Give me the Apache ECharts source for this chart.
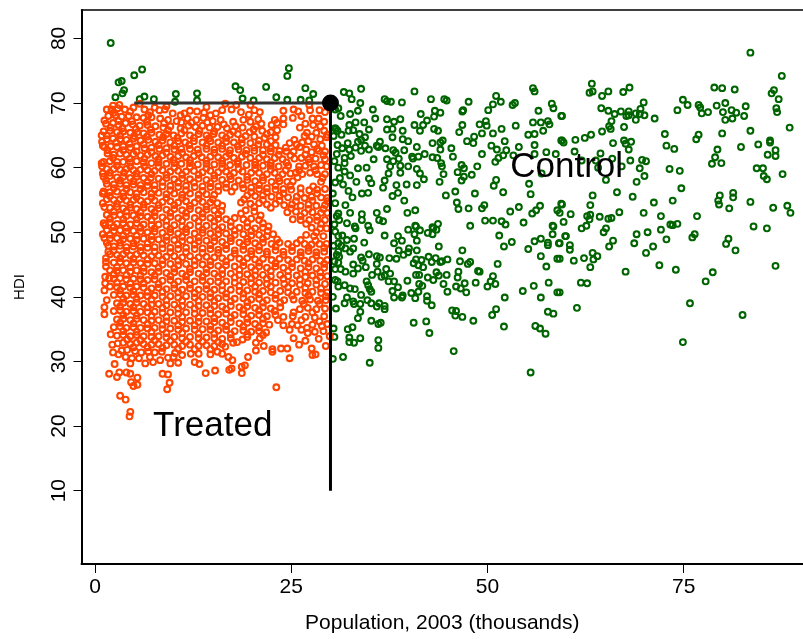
<!DOCTYPE html>
<html><head><meta charset="utf-8">
<style>html,body{margin:0;padding:0;background:#fff}#c{width:803px;height:639px}</style>
<script src="https://cdn.jsdelivr.net/npm/echarts@6/dist/echarts.min.js"></script>
</head><body><div id="c"></div>
<script>
const xTicks=[0,25,50,75];
const yTicks=[10,20,30,40,50,60,70,80];
const xLabel="Population, 2003 (thousands)";
const yLabel="HDI";
const cutoffX=[5,30];
const cutoffY=[10,70];
const controlNear=[31.7,71.7,32.4,71.5,32.7,70.6,33.9,72.2,33.8,70,33.5,68.8,35.4,69,35.7,67.6,32.5,68.3,33.2,67,34.3,67,32.4,66.6,32.3,65.7,32.9,65.8,33.7,65.2,34.9,65.9,34.4,64.7,33.9,64.3,33.5,64,32.2,63.8,31.5,63,32.4,62.8,33.2,63.1,33.9,62.6,34.4,63.4,34.9,62.8,35.9,63.4,36.3,64,36.1,63.2,37,63,38,62.7,38.3,62.3,39.4,62.7,39.9,64.1,39.2,64.4,39.2,65.7,38.9,67.5,38.1,67.1,37.2,67.5,37.2,65.9,37.9,66,37.9,64.7,36.9,70.6,37.2,70.3,37.7,70.2,39.1,70.1,40.7,71.8,42.8,70.6,44.5,70.6,44.8,70.4,47.6,70.2,46.9,68.9,46.8,68.7,50.1,68.9,50.7,69.8,51.1,71.1,51.7,70.2,53.2,69.7,53.5,70,55.8,72.3,56,71.8,58.2,69.9,58.4,69.2,56.5,68.8,59.4,68,55.8,67,56.8,67,57.7,67.2,57.9,66.7,57.1,65.7,56,65.2,55.2,65.1,53.6,66.5,51.8,66,50.7,65.3,49.8,67.2,49,66.7,49.9,66.5,49.3,65.3,48.3,64.8,47.4,64.1,48.2,63.8,46.8,66.6,46.4,65.5,40.7,66.6,41.8,66.6,42.3,67.3,41.5,68.3,43.3,68.8,44,68.5,43.2,67.9,41.4,65.7,43.2,66,43.7,65.7,43,63.8,44,63.9,44.3,64.2,44,62.8,45.4,63,45.6,61.7,41,63.2,40.4,61.7,41.2,61.7,42,62.1,43,61.6,43.6,61.5,44.1,60.7,44.2,60.2,52.2,64.1,50.5,63.4,51.2,62.8,52.4,62.7,54,63.2,56,63.5,56,62.1,57.5,62.4,58.7,62.1,59.4,64.2,49.3,62.1,52,61.9,51.4,61.5,51,60.9,53.3,61.9,46.7,60.4,47,59.9,46.2,59.3,47,58.6,46.7,58,48,58.9,48.7,60.2,51.1,58.1,50.8,57.2,52,56.2,55.3,57.5,55.5,55.9,56.9,59.1,48.4,56,45.9,56.3,44.7,55.7,44.4,59,43.9,57.8,41.9,58.2,41.4,59.1,41,59.8,39.9,60.2,38.9,59.2,38.9,60.3,37.6,60.2,37.4,59.1,36.9,58,36.7,56.9,38.4,57.3,38.6,56.1,37.9,55.6,39.4,54.9,39.7,57.4,41,57.3,34.9,58.3,35.2,57.6,34.8,56.1,34,56,32.8,55.4,32.3,56.4,31.6,57.4,30.6,57.7,31.2,58.4,32.5,58.8,33.3,57.8,33.5,59.9,34.6,60,31.8,59.4,31.8,60.7,31.8,61.5,32.6,61.8,30.8,62.1,35.5,61.3,37.2,61.3,38,61,38.7,61.4,40.5,61.4,31.9,54.2,31,52.9,32.5,53,34,52.8,35.9,53,37.2,53.6,39.8,53,40.8,53.4,46.1,54.6,46.3,53.6,47.6,53.7,49.3,53.7,49.6,54.2,54,53.9,52.9,53.2,55.7,52.9,56.2,53.4,56.7,54.1,58.9,53.4,59.4,54.4,49.7,51.8,50.7,51.8,51.8,51.7,52.3,51.2,54.6,51.5,58.3,51,47.8,51,43.7,51.3,40.8,51,43,50.8,34.8,51,36.7,51.7,36.2,51.9,33.1,50.9,32.1,51.4,31.1,51.9,34,51.9,31,69.2,31.3,68,30.6,66.1,30.9,65.7,30.4,64.9,31.4,65.1,30.6,69,30.7,66,30.9,63.5,30.5,61,31,60,30.3,56,30.6,54.5,30.8,52.5,30.5,51.2];
const controlLow=[33.2,50.6,35,50.3,39.9,50.4,40.9,50.9,40.7,49.7,41.4,50.3,42.4,49.9,43.1,50.6,43.5,50.4,43,49.7,41,48.7,36.9,49.5,38.6,49.4,39.1,48.7,38.1,48.3,34.3,48.4,33,49,32.1,48.8,31,49.4,30.6,50.1,31,48.3,31.4,47.9,32.9,47.5,32.5,47,31,47,31.1,46.2,31,45.3,31.3,44.3,31.9,43.9,32.9,43.6,33.5,44.4,32.9,45,34.5,44.6,34.1,45.6,33.9,46.1,34.9,46.6,35.9,46.3,36.3,46.1,35.9,45.1,36,43.9,35.3,43.4,37.1,44.3,37.6,43.6,36.5,43.1,36.9,43.3,37.4,42.4,38.1,42.4,34.6,42.4,34.8,41.8,35,41.2,35.2,40.8,38.6,41.5,37.9,40.9,38.1,39.9,39.1,39.9,39.2,40.2,40.3,40.6,41.2,40.8,41.3,42,41.7,41.7,39.8,42.5,40.9,43.4,41.3,43.4,42.4,43,43.1,42.6,43.5,43.8,43.8,43.3,44.8,43.4,44.4,42,44.9,40.8,46.3,43.9,46.2,43,46,41.6,46.6,41.3,47.1,42.1,47.3,40.7,48.5,42.2,48.8,44,49,43.9,50,41.6,50.7,43.2,50.4,42.4,51,42,52.2,39.9,54.5,40.9,55.9,41.7,56.8,39.9,57.8,42.2,58.9,40.7,51.3,45.1,47.5,45.1,47.8,45.4,46.5,45.5,46.8,47.2,44.9,45.8,44.2,45.5,44,45.4,43.4,46,42.9,45.4,42.5,46.2,41.8,44.6,41.6,45.7,41.2,44.9,40.6,45.2,40.9,45.8,41,47.2,39.9,46.9,40,47.5,39.3,46.5,38.4,45.9,38.7,47.2,37.5,46,43.8,47.8,52.1,47.8,51.5,49.5,53.1,48.5,55.2,47.4,56,48.6,56.8,49,57.7,48.4,57.7,48,59.1,48.3,58.4,50.9,58.3,49.7,59.9,49.4,56.8,46.3,57.5,44.7,58.9,45.9,32.1,39.9,31.8,39,32.9,39.3,33,38.9,33.8,38.9,33.9,40.3,34.7,39.5,35.2,39,35.9,38.5,36.2,39,36.9,38.6,36.9,38.1,30.7,38.2,33.8,37.7,33.5,36.7,35.2,36.3,36.1,35.8,36.4,36,40.6,36,42.2,36.2,42.6,34.4,42.3,40.1,40.8,39.8,42.3,39.4,42.9,38.7,45.5,37.9,46,37.8,45.9,37.1,46.8,36.9,48.2,36.3,51.1,38.1,50.6,37.2,52.1,35.4,56.1,35.5,56.7,35.1,57.4,34.3,57.7,37.7,58.4,37.4,32.8,35.3,32.2,35,30.4,35.1,30.5,33.8,32.4,33.7,32.4,33,33,32.9,33.8,33.6,36.1,33.3,36.1,32.1,30.3,30.4,31.6,30.7,35,29.8,45.7,31.6,55.5,28.3,31,41.6,31.8,41.8,32.5,41.3,33.1,41.2,30.6,42.6,30.9,42.4,30.4,47.9,30.8,46.5,30.6,44.3,30.5,45.5,30.3,40,31.5,49.5,31.9,47.5];
const controlFar=[83.5,77.8,87.5,74.2,63.3,73,65.4,71.8,63,71.6,63.4,71.8,64.6,71.1,67.3,71.7,68.1,72.4,78.9,72.4,79.9,72.3,81.5,72.1,86.5,72,86.2,71.5,87.1,70.6,74.9,70.5,75.5,69.7,74.2,68.9,69.9,70.1,69.5,69.1,64.5,69.2,65.4,68.8,66.2,68.3,67,68.7,67.7,68,68,68.7,68,68.1,68.9,67.4,68.9,68.4,69.4,68.3,70,68.1,71.3,67.6,65.8,67.2,65.5,66.4,65.7,66,64.6,65.6,67.4,66.3,63.2,65.1,62.4,64.6,61.2,64.3,59.5,68,59.5,64.2,59.7,63.9,61.1,62.5,64.4,62.2,66,63.8,67.4,64.2,67.6,63.7,68.3,64,68,62.8,65.9,61.4,63.8,61.1,62,61.1,64.1,60,67.1,60.2,68.2,61.1,69.7,61.2,70.2,61,69.4,59.9,70,58.7,65.1,58.1,69,57.8,66.5,56.2,63.4,55.7,63.1,54.2,59.5,54.3,68.5,55.5,71.2,54.6,73.6,54.9,74.7,56.8,74.5,59.5,73.2,59.8,73.8,62.9,72.8,63.4,72.6,65.2,76.6,64.4,76.9,65.1,79.9,65.3,83.5,65.7,88.5,66.2,76.9,69.7,77.1,69.3,77.3,68.4,78.1,68.6,79.2,69.6,80.3,70,80,68.6,81.1,68.9,81.7,68.5,82.9,69.5,82.7,68,81.2,67.6,80.3,67.4,86.8,69.2,86.9,68.6,86,64.2,86,63.9,84.5,63.6,82.3,63.2,79.3,62.8,79,61.6,78.6,60.6,79.8,60.7,86.7,62.7,85.7,62,86.7,61.8,84.3,59.9,85.1,59.9,85.2,58.7,85.6,58.2,87.6,59,79.6,55.7,79.4,54.9,79.5,54.3,81.3,56.1,81.3,55.4,83.5,54.7,80.8,53.7,86.4,53.8,88.2,54.1,88.6,53,76.7,52.5,72.1,52.5,69.9,53,66.8,53.1,65.8,52.2,65.4,52.1,64.3,52.4,63.1,52.7,62.7,52.5,63,52,60.6,52.8,59.7,51.6,59.2,53,62.6,51,62,50.6,65.1,50.6,64.8,50,60,49.4,59.2,48.3,60.5,48,60.5,47.3,66,48.7,65.5,47.8,69,49.7,68.7,48.3,70.4,50,72.1,50.4,73.3,51.2,73.6,51.1,74.2,51.3,72.8,48.9,71.1,47.8,70.2,46.8,63.4,46.8,64,46.3,63.5,45.8,62.3,46,61,45.6,59.2,45.9,63.1,44.6,67.6,43.9,71.9,44.9,74,44.2,78.7,43.8,77.8,42.4,76.4,49.7,76.1,49.2,80.7,49,80.4,48.2,81.6,47.2,83.9,50.9,85.6,50.6,86.7,44.8,61.9,42.2,62.7,42.1,59.2,40.7,61.4,38.3,75.8,39,82.5,37.2,74.9,33];
const controlTop=[2,79.3,6,75.2,5,74.3,3,73.2,3.4,73.4,3.7,72,3.5,71.5,2.6,70.9,6.3,71,5.7,70.6,7.5,70.6,10.3,71.4,10.2,70.2,13,71.5,13,70.4,17.9,72.6,18.5,72,18.8,70.7,20.2,70.4,21.8,72.5,23.1,70.9,24.5,70.5,24.7,75.4,24.5,74.2,26.8,72.3,27.8,71.4,26.2,70.5,27.3,70.4];
const treatedEdge=[1.8,28.1,2.8,27.6,3.1,28.3,4,28.3,4.5,28.1,5.4,27.5,4.6,26.8,5.4,26.4,4.9,26.2,3.2,24.7,3.9,24.1,4.5,22.2,4.4,21.5,8.6,28.1,9.3,28,9.5,26.7,9.2,25.7,14.1,28.2,15.3,28.6,17.1,28.7,17.4,28.9,18.7,28.2,18.7,29.2,19.1,29.4,23.1,26,19.5,30.7,17.5,30.2,17,30.7,24.8,30.5,27.7,31,28.1,31.1,27.6,32,23.7,32,24.5,32,22.6,31.9,22.6,31.5,29.4,32.4,28.5,33.5,29.9,33.9,26,32.6,26.8,33.2,25.3,33.6,24.8,34.9,24,35.6,27.1,34.4,26.3,34.9,2.5,29.6,3,31.1,2.2,32.6,2.3,31.4,2,34.2,4.5,29.7,4.7,30.5,6.4,29.7,7.4,29.9,8.3,30.2,9.6,29.7,10.6,29.8,9.3,30.6,12.7,29.9,13.3,29.6,12.2,31.2,14.7,31.1,16.6,32.3,18.1,33,20.5,32.9,20.5,31.7,21.5,32.4,1.2,37.3,1.2,38.4,1.5,39.5,1.2,41,1.3,42.1,1.4,44.7,1.3,43.1,1.7,47,1,49.7,1.3,51.1,0.85,65,1,63.4,0.85,60.7,1,59.1,1,56,1.3,51.1,1.5,69,3.1,69.7,2.3,69.6,5.7,69.9,7.6,69.3,9.1,69.5,12.1,68.8,14.2,69.4,16.6,69.9,18,69.7,19.8,69.7,21,68.6,24,68.8,25.3,69,26.3,68,27.3,69.7,27.4,68.9,28.5,67.6];
const treatedUpper=[2.1,69,2.9,69.2,3.8,69,4.5,68.7,6.3,69,7,68.6,8.2,68.9,9.9,68.4,10.9,68.1,13,68.7,13.9,68.5,15.4,68.4,16.2,68.9,18.6,68.6,19.6,68.2,20.8,67.5,24,67.6,25.2,67.7,27.7,67.6,29.3,68.6,1.7,68,2.6,68.1,3.4,67.9,4.3,68,5.3,67.8,6.2,67.7,7.2,67.8,8.3,67.6,9.3,67.4,10.4,67.2,11.8,67.6,12.9,67.4,13.8,67.7,15,67.2,16,67.4,18.9,67.4,19.8,67.1,21.2,66.8,22.5,66.6,23.2,66.9,26.8,66.8,27.8,66.6,29.2,67.1,1.4,66.8,2.3,66.9,3,66.6,3.9,66.9,4.8,66.7,5.7,66.5,6.7,66.6,7.7,66.4,8.7,66.2,9.6,66.4,10.9,66.1,11.9,66.5,12.8,66.3,13.7,66.5,14.6,66.2,15.6,66.3,16.8,66.1,17.9,66.4,18.8,66.2,20.2,65.9,21.3,65.7,22.4,65.5,23.2,65.8,28.2,65.4,29.2,65.7,1.1,65.6,1.9,65.7,2.8,65.5,3.6,65.6,4.5,65.4,5.4,65.5,6.2,65.3,7.2,65.4,8.2,65.1,9.1,65.2,10,65,11,65.3,12.1,65,13.2,65.2,14.2,65,15.1,65.2,16.2,65,17.2,65.1,18.2,65.2,19.2,64.9,20.3,64.8,21.6,64.6,23,64.7,26.7,64.9,27.6,64.8,28.7,64.4,29.5,64.7,1.5,64.4,2.3,64.5,3.2,64.4,4,64.3,4.9,64.5,5.8,64.2,6.8,64.3,7.7,64,8.6,64.2,9.6,63.9,10.6,64.1,11.5,63.9,12.6,64.1,13.7,63.9,14.7,64.1,15.7,63.9,16.7,64,17.7,63.9,18.7,63.8,19.8,63.8,20.8,63.6,21.9,63.6,23,63.5,24.8,63.8,25.7,63.6,26.4,63.9,27.9,63.6,28.9,63.4,1.2,63.2,2,63.3,2.8,63.2,3.6,63.3,4.5,63.1,5.3,63.3,6.3,63,7.2,63.1,8.2,62.9,9.1,63,10.1,62.8,11,62.9,12.1,62.9,13.1,62.8,14.2,62.9,15.2,62.8,16.2,62.9,17.2,62.7,18.3,62.8,19.3,62.7,20.3,62.6,21.4,62.7,22.4,62.5,23.5,62.6,24.4,62.5,25.3,62.5,26.9,62.8,27.6,62.4,28.5,62.6,29.3,62.5,1.6,62.2,2.4,62,3.2,62.2,4,62,4.9,62.1,5.8,61.9,6.7,62,7.7,61.8,8.6,61.9,9.6,61.7,10.6,61.8,11.6,61.6,12.6,61.8,13.6,61.6,14.7,61.7,15.7,61.6,16.7,61.7,17.7,61.5,18.7,61.7,19.8,61.5,20.9,61.5,21.9,61.3,22.9,61.5,23.9,61.3,25.4,61.4,26.3,61.5,27.2,61.3,28.1,61.4,29.3,61.3,1.1,60.9,1.9,61,2.8,60.9,3.6,60.9,4.5,60.8,5.3,61,6.2,60.8,7.2,60.7,8.1,60.8,9.1,60.6,10.1,60.7,11,60.6,12.1,60.7,13.1,60.5,14.2,60.6,15.2,60.5,16.2,60.6,17.2,60.4,18.2,60.6,19.3,60.4,20.4,60.4,21.4,60.3,22.4,60.3,23.4,60.2,24.6,60.3,26,60.2,26.8,60.3,27.9,60.2,28.8,60.4,29.5,60.2,1.5,59.8,2.4,59.8,3.2,59.7,4,59.8,4.9,59.6,5.8,59.7,6.7,59.6,7.6,59.5,8.6,59.6,9.6,59.4,10.6,59.5,11.6,59.4,12.6,59.5,13.7,59.3,14.7,59.5,15.7,59.3,16.7,59.4,17.7,59.2,18.8,59.4,19.9,59.2,20.9,59.2,21.9,59,22.9,59.2,23.9,59,24.9,59.1,25.6,59.2,26.4,59,27.4,59.2,28.3,59,29.3,59,1.1,58.6,1.9,58.7,2.8,58.5,3.6,58.6,4.5,58.4,5.3,58.6,6.2,58.4,7.1,58.4,8.1,58.3,9.1,58.4,10.1,58.2,11.1,58.3,12.1,58.2,13.2,58.3,14.2,58.1,15.2,58.3,16.2,58.1,17.3,58.2,18.3,58,19.4,58.1,20.4,57.9,21.4,58,22.5,57.8,23.5,57.9,24.5,57.8,25.2,57.9,28.8,57.8,1.5,57.5,2.4,57.4,3.2,57.5,4,57.3,4.9,57.4,5.8,57.3,6.7,57.2,7.6,57.3,8.6,57.1,9.6,57.2,10.6,57,11.6,57.2,12.7,57,13.7,57.1,14.7,57,15.7,57.1,16.7,56.9,17.8,57,18.9,56.8,19.9,56.9,20.9,56.7,21.9,56.8,23,56.6,24,56.7,25,56.6,26.2,56.8,27.3,56.5,28.3,56.6,29.3,56.7,1.1,56.3,1.9,56.2,2.8,56.3,3.6,56.1,4.5,56.2,5.3,56,6.2,56.2,7.2,56,8.1,56.1,9.1,55.9,10.1,56,11.1,55.8,12.1,56,13.2,55.8,14.2,55.9,15.2,55.8,19.4,55.7,20.4,55.6,21.4,55.7,22.5,55.5,23.5,55.6,24.6,55.4,25.7,55.5,26.7,55.3,27.6,55.5,28.8,55.4,29.6,55.3,1.5,55.1,2.4,55,3.2,55.1,4,54.9,4.9,55,5.8,54.9,6.7,54.8,7.6,54.9,8.6,54.7,9.6,54.8,10.6,54.6,11.6,54.8,12.7,54.6,13.7,54.7,14.7,54.6,15.6,54.5,18.6,54.6,19.8,54.4,20.9,54.5,21.9,54.3,23,54.4,24.1,54.2,25.1,54.3,26.2,54.1,27.2,54.3,28.2,54.1,29.3,54.2];
const treatedMiddle=[1.2,53.9,1.9,53.8,2.8,53.9,3.6,53.7,4.5,53.8,5.3,53.6,6.2,53.8,7.2,53.6,8.1,53.7,9.1,53.5,10.1,53.6,11.1,53.4,12.1,53.6,13.2,53.4,14.2,53.5,15.2,53.4,16.1,53.3,19.2,53.4,20.3,53.2,24.5,53.1,25.6,53.2,26.7,53,27.7,53.1,28.8,53,29.6,53,1.5,52.7,2.4,52.6,3.2,52.7,4,52.5,4.9,52.6,5.8,52.5,6.7,52.4,7.6,52.5,8.6,52.3,9.6,52.4,10.6,52.2,11.6,52.4,12.7,52.2,13.7,52.3,14.7,52.2,15.7,52.1,16.7,52,17.8,52.2,18.9,52,19.9,52.1,20.9,51.9,25.2,52,26.2,51.9,27.3,51.9,28.3,51.8,29.3,51.9,1.1,51.4,1.9,51.5,2.8,51.3,3.6,51.4,4.5,51.2,5.3,51.4,6.2,51.2,7.2,51.1,8.1,51.2,9.1,51,10.1,51.1,11.1,50.9,12.1,51.1,13.2,50.9,14.2,51,15.2,50.9,16.2,50.8,17.3,50.9,18.4,50.7,19.4,50.8,20.4,50.6,21.4,50.7,22.1,50.9,27.6,50.7,28.7,50.6,29.5,50.6,1.5,50.3,2.4,50.2,3.2,50.3,4,50.1,4.9,50.2,5.8,50.1,6.7,50,7.6,50.1,8.6,49.9,9.6,50,10.6,49.8,11.6,50,12.7,49.8,13.7,49.9,14.7,49.8,15.7,49.7,16.7,49.8,17.8,49.6,18.9,49.7,19.9,49.5,20.9,49.6,21.9,49.4,22.7,49.7,26.9,49.6,27.9,49.4,29.1,49.4,1.2,49.1,1.9,49,2.8,49.1,3.6,48.9,4.5,49,5.3,48.8,6.2,49,7.2,48.8,8.1,48.9,9.1,48.7,10.1,48.8,11.1,48.6,12.1,48.8,13.2,48.6,14.2,48.7,15.2,48.6,16.2,48.5,17.3,48.6,18.4,48.4,19.4,48.5,20.4,48.3,21.4,48.4,22.5,48.2,23.5,48.4,24.6,48.2,25.7,48.3,26.7,48.2,27.6,48.1,28.6,48.2,29.5,48.2,1.7,47.9,2.4,47.8,3.2,47.9,4,47.7,4.9,47.8,5.8,47.7,6.7,47.6,7.6,47.7,8.6,47.5,9.6,47.6,10.6,47.4,11.6,47.6,12.7,47.4,13.7,47.5,14.7,47.4,15.7,47.3,16.7,47.4,17.8,47.2,18.9,47.3,19.9,47.1,20.9,47.2,21.9,47,23,47.2,24,47,25.1,47.1,26.2,46.9,27.2,47.1,28.2,46.9,29.2,47,1.9,46.6,2.8,46.5,3.6,46.6,4.5,46.4,5.3,46.6,6.2,46.4,7.2,46.3,8.1,46.4,9.1,46.2,10.1,46.3,11.1,46.1,12.1,46.3,13.2,46.1,14.2,46.2,15.2,46.1,16.2,46,17.3,46.1,18.4,45.9,19.4,46,20.4,45.8,21.4,45.9,22.5,45.7,23.5,45.9,24.6,45.7,25.7,45.8,26.7,45.6,27.7,45.8,28.7,45.6,29.6,45.7,1.4,45.4,2.4,45.3,3.2,45.4,4,45.2,4.9,45.3,5.8,45.2,6.7,45.1,7.6,45.2,8.6,45,9.6,45.1,10.6,44.9,11.6,45.1,12.7,44.9,13.7,45,14.7,44.9,15.7,44.8,16.7,44.9,17.8,44.7,18.9,44.8,19.9,44.6,20.9,44.7,21.9,44.5,23,44.7,24,44.5,25.1,44.6,26.2,44.4,27.2,44.6,28.2,44.4,29.2,44.5,1.9,44.1,2.8,44,3.6,44.1,4.5,43.9,5.3,44.1,6.2,43.9,7.2,43.8,8.1,43.9,9.1,43.7,10.1,43.8,11.1,43.6,12.1,43.8,13.2,43.6,14.2,43.7,15.2,43.6,16.2,43.5,17.3,43.6,18.4,43.4,19.4,43.5,20.4,43.3,21.4,43.4,22.4,43.2,23.6,43.4,24.6,43.2,25.7,43.3,26.8,43.1,27.7,43.3,28.7,43.1,29.6,43.2,1.8,42.9,2.4,42.8,3.2,42.9,4,42.7,4.9,42.8,5.8,42.7,6.7,42.6,7.6,42.7,8.6,42.5,9.6,42.6,10.6,42.4,11.6,42.6,12.7,42.4,13.7,42.5,14.7,42.4,15.7,42.3,16.7,42.4,17.8,42.2,18.9,42.3,19.9,42.1,20.9,42.2,21.9,42,23,42.2,24.1,42,25.1,42.1,26.1,41.9,27.1,42.1,28.2,41.9,29.3,42,1.9,41.6,2.8,41.5,3.6,41.6,4.5,41.4,5.3,41.6,6.2,41.4,7.2,41.3,8.1,41.4,9.1,41.2,10.1,41.3,11.1,41.1,12.1,41.3,13.2,41.1,14.2,41.2,15.2,41.1,16.2,41,17.3,41.1,18.4,40.9,19.4,41,20.4,40.8,21.4,40.9,22.4,40.7,23.6,40.9,24.6,40.7,25.7,40.8,26.8,40.6,27.7,40.8,28.8,40.6,29.6,40.7];
const treatedLower=[2.4,40.3,3.2,40.4,4,40.2,4.9,40.3,5.8,40.2,6.7,40.1,7.6,40.2,8.6,40,9.6,40.1,10.6,39.9,11.6,40.1,12.7,39.9,13.7,40,14.7,39.9,15.7,39.8,16.7,39.9,17.8,39.7,18.9,39.8,19.9,39.6,20.9,39.7,21.9,39.5,23,39.7,24.1,39.5,25.3,39.6,26.4,39.4,27.4,39.6,28.4,39.4,29.4,39.5,2.8,39,3.6,39.1,4.5,38.9,5.3,39.1,6.2,38.9,7.2,38.8,8.1,38.9,9.1,38.7,10.1,38.8,11.1,38.6,12.1,38.8,13.2,38.6,14.2,38.7,15.2,38.6,16.2,38.5,17.3,38.6,18.4,38.4,19.4,38.5,20.4,38.3,21.4,38.4,22.4,38.2,23.6,38.4,26.1,38.1,27.1,38.3,28.2,38.1,29.3,38.2,2.4,37.8,3.2,37.9,4,37.7,4.9,37.8,5.8,37.7,6.7,37.6,7.6,37.7,8.6,37.5,9.6,37.6,10.6,37.4,11.6,37.6,12.7,37.4,13.7,37.5,14.7,37.4,15.7,37.3,16.7,37.4,17.8,37.2,18.9,37.3,19.9,37.1,20.9,37.2,21.9,37,23,37.2,24,36.9,25.2,37,26.8,36.9,28,36.8,29.2,37,2.8,36.5,3.6,36.6,4.5,36.4,5.3,36.6,6.2,36.4,7.2,36.3,8.1,36.4,9.1,36.2,10.1,36.3,11.1,36.1,12.1,36.3,13.2,36.1,14.2,36.2,15.2,36.1,16.2,36,17.3,36.1,18.4,35.9,19.4,36,20.4,35.8,21.4,35.9,22.2,35.7,25.1,35.8,25.8,35.6,27.7,35.7,28.9,35.5,29.6,35.8,2.4,35.3,3.2,35.4,4,35.2,4.9,35.3,5.8,35.2,6.7,35.1,7.6,35.2,8.6,35,9.6,35.1,10.6,34.9,11.6,35.1,12.7,34.9,13.7,35,14.7,34.9,15.7,34.8,16.7,34.9,17.8,34.7,18.9,34.8,19.9,34.6,20.9,34.7,21.8,34.5,28,34.6,29.1,34.7,2.8,34,3.6,34.1,4.5,33.9,5.3,34.1,6.2,33.9,7.2,33.8,8.1,33.9,9.1,33.7,10.1,33.8,11.1,33.6,12.1,33.8,13.2,33.6,14.2,33.7,15.2,33.6,16.2,33.5,17.3,33.6,18.8,33.4,19.4,33.8,21,33.6,2.9,32.8,3.6,32.9,4.5,32.7,5.3,32.9,6.2,32.7,7.2,32.6,8.1,32.7,9.1,32.5,10.1,32.6,11.1,32.4,12.1,32.6,13.2,32.4,14.2,32.5,15.2,32.4,16.2,32.7,3.4,31.7,4.1,31.8,5.1,31.6,5.9,31.4,6.8,31.5,7.6,31.4,8.5,31.5,10.2,31.3,11.1,31,13.2,31.2,15.6,31.5,16.2,31.2,3.9,30.7,5.6,30.5,7,30.7,10,30.7];
const treatedFill=[2.4,68.5,4.9,69.3,6.8,68.1,8.9,69,11.4,68.4,14.7,68.1,17.4,69,20.3,68.9,22.9,67.4,25.9,68.7,28.6,68.9,1.2,67.3,3,67.2,4.7,67.2,6.6,67.1,8.8,66.9,11,67,12.3,67,14.3,67,16.4,66.7,17.6,67.1,20.5,66.4,24,66.7,26.1,66.2,28.7,66.4,2,66.2,3.5,66.1,5.2,66,7.1,65.9,9.3,65.8,11.4,65.8,13.3,65.7,15.2,65.6,17.6,65.6,19.7,65.5,21.9,65.2,27,65.4,29.6,65.1,1.5,65,3.2,65,5,64.9,6.6,64.8,8.7,64.7,10.5,64.6,12.6,64.6,14.5,64.5,16.7,64.6,18.7,64.4,20.9,64.2,22.4,64.1,25.4,64.3,27.2,64.1,0.9,64,2.7,63.9,4.4,63.7,6.2,63.6,8.1,63.5,10.1,63.4,12,63.5,14.2,63.4,16.2,63.4,18.2,63.3,20.3,63.1,22.4,63,24.3,63.1,26.1,63.2,28.3,62.9,1.6,62.7,3.6,62.7,5.3,62.5,7.2,62.4,9.1,62.3,11.1,62.3,13.2,62.2,15.2,62.3,17.1,62.2,19.2,62.1,21.4,62,23.4,62,24.9,61.9,26.8,62,29.1,61.9,2.3,61.5,4.4,61.4,6.3,61.4,8.1,61.3,10,61.2,12.1,61.2,14.2,61.1,16.2,61.1,18.2,61,20.4,60.9,22.4,60.8,24.4,60.8,27.3,60.8,0.9,60.2,2.8,60.3,4.5,60.2,6.3,60.2,8.1,60.1,10.1,60,12.1,60.1,14.2,59.9,16.2,59.9,18.3,59.8,20.4,59.8,22.4,59.7,24.3,59.6,26,59.6,28.1,59.6,1.9,59.2,3.7,59.2,5.3,59.1,7.2,59,9.1,58.9,11.1,58.9,13.2,58.9,15.2,58.8,17.2,58.7,19.4,58.6,21.4,58.5,23.4,58.4,25.8,58.5,29,58.4,1.4,58,3.2,58,4.9,57.9,6.7,57.8,8.6,57.8,10.6,57.7,12.6,57.7,14.7,57.6,16.7,57.5,18.8,57.4,20.9,57.3,23,57.2,24.9,57.2,27.8,57.1,2.4,56.8,4,56.7,5.8,56.7,7.6,56.6,9.6,56.5,11.6,56.5,13.7,56.4,15.7,56.4,17.4,56.3,19.9,56.2,21.9,56.2,24,56,26.2,56,28.3,56,1.9,55.6,3.6,55.5,5.3,55.4,7.2,55.4,9.1,55.3,11.1,55.3,13.2,55.2,15,55.1,19,55.1,21.4,55,23.5,54.9,25.6,54.8,27.7,54.9,29.6,54.8,1,54.5,2.8,54.4,4.5,54.3,6.2,54.3,8.1,54.2,10.1,54.2,12.1,54.1,14.2,54,16.2,54.1,20.3,53.9,22.4,53.8,25,53.7,27.2,53.6,29.1,53.6,2.4,53.2,4,53.2,5.8,53.1,7.6,53.1,9.6,53,11.6,53,13.7,52.9,15.7,52.8,18.6,52.9,21.1,52.6,26.2,52.5,28.3,52.4,1.9,52.1,3.6,52,5.3,52,7.2,51.9,9.1,51.8,11.1,51.8,13.2,51.7,15.2,51.7,17.3,51.6,19.4,51.5,21.4,51.4,26.9,51.3,28.8,51.3,2.4,50.8,4,50.7,5.8,50.7,7.6,50.6,9.6,50.5,11.6,50.5,13.7,50.4,15.7,50.4,17.8,50.3,19.9,50.2,22,50.2,28.2,50,1.9,49.6,3.6,49.5,5.3,49.5,7.2,49.4,9.1,49.3,11.1,49.3,13.2,49.2,15.2,49.2,17.3,49.1,19.4,49,21.4,49,23.2,48.9,26.2,48.8,28.1,48.7,1.5,48.4,3.2,48.4,4.9,48.3,6.7,48.3,8.6,48.2,10.6,48.1,12.7,48.1,14.7,48,16.7,48,18.9,47.9,20.9,47.8,23,47.8,25.1,47.7,27.2,47.6,29.2,47.6,2.4,47.2,4,47.1,5.8,47.1,7.6,47,9.6,46.9,11.6,46.9,13.7,46.8,15.7,46.8,17.8,46.7,19.9,46.6,21.9,46.6,24,46.5,26.2,46.4,28.2,46.4,1.4,46,3.2,46,4.9,45.9,6.7,45.8,8.6,45.7,10.6,45.6,12.7,45.6,14.7,45.5,16.7,45.5,18.9,45.4,20.9,45.3,23,45.2,25.1,45.2,27.2,45.2,29.2,45.1,2.8,44.6,4.5,44.6,6.2,44.5,8.1,44.5,10.1,44.4,12.1,44.3,14.2,44.3,16.2,44.2,18.4,44.2,20.4,44.1,22.4,44,24.6,44,26.8,43.9,28.7,43.8,2.4,43.5,4,43.4,5.8,43.3,7.6,43.3,9.6,43.2,11.6,43.2,13.7,43.1,15.7,43.1,17.8,43,19.9,42.9,21.9,42.8,24,42.8,26.1,42.7,28.2,42.6,2.8,42.2,4.5,42.1,6.2,42.1,8.1,42,10.1,41.9,12.1,41.9,14.2,41.8,16.2,41.8,18.4,41.7,20.4,41.6,22.4,41.6,24.6,41.5,26.8,41.4,28.8,41.3,3.2,41,4.9,40.9,6.7,40.8,8.6,40.8,10.6,40.7,12.7,40.6,14.7,40.6,16.7,40.5,18.9,40.5,20.9,40.4,23,40.3,25.1,40.2,27.2,40.2,29.4,40.1,3.6,39.7,5.3,39.7,7.2,39.6,9.1,39.5,11.1,39.4,13.2,39.4,15.2,39.4,17.3,39.3,19.4,39.2,21.4,39.1,23.6,39.1,26.6,38.9,28.6,38.9,3.2,38.5,4.9,38.4,6.7,38.4,8.6,38.3,10.6,38.2,12.7,38.2,14.7,38.1,16.7,38.1,18.9,38,20.9,37.9,22.9,37.8,25.3,37.6,27.7,37.6,3.6,37.2,5.3,37.1,7.2,37.1,9.1,36.9,11.1,36.9,13.2,36.8,15.2,36.7,17.3,36.8,19.4,36.6,21.4,36.6,23.3,36.4,26.3,36.4,28.6,36.2,3.2,36,4.9,35.9,6.7,35.8,8.6,35.7,10.6,35.6,12.7,35.6,14.7,35.5,16.7,35.5,18.9,35.4,20.9,35.3,27,35.2,3.6,34.7,5.3,34.6,7.2,34.6,9.1,34.4,11.1,34.4,13.2,34.3,15.2,34.3,17.3,34.2,19.4,34.2,21.4,34.1,4.1,33.4,5.8,33.3,7.6,33.3,9.6,33.2,11.6,33.1,13.7,33.1,15.7,33,17.6,32.9,4.9,32.2,6.7,32.2,8.6,32.1,10.6,32,12.7,31.9,14.7,31.9];
const toPairs=a=>{const r=[];for(let i=0;i<a.length;i+=2)r.push([a[i],a[i+1]]);return r;};
const ring=(name,vals,col)=>({type:'scatter',name,data:toPairs(vals),symbol:'circle',symbolSize:5.8,silent:true,animation:false,large:false,progressive:0,
  itemStyle:{color:'rgba(255,255,255,0)',borderColor:col,borderWidth:2.1,opacity:1}});
const textLabel=(txt,x,y)=>({type:'scatter',data:[[x,y]],symbolSize:0,silent:true,animation:false,z:8,itemStyle:{opacity:1},
  label:{show:true,position:'right',distance:0,formatter:txt,fontFamily:'Liberation Sans',fontSize:35,color:'#000',opacity:1}});
const chart=echarts.init(document.getElementById('c'),null,{renderer:'canvas'});
chart.setOption({animation:false,backgroundColor:'#fff',
 grid:{left:81.5,top:10,right:0,bottom:75},
 xAxis:[{type:'value',min:-1.72,max:90.2,name:xLabel,nameLocation:'middle',nameGap:49,
   nameTextStyle:{fontFamily:'Liberation Sans',fontSize:21,color:'#000'},
   splitLine:{show:false},axisLine:{onZero:false,lineStyle:{color:'#000',width:2}},
   axisTick:{customValues:xTicks,length:9,lineStyle:{color:'#000',width:1}},
   axisLabel:{customValues:xTicks,fontFamily:'Liberation Sans',fontSize:21,color:'#000',margin:13,showMinLabel:true,showMaxLabel:true}},
  {type:'value',position:'top',min:-1.72,max:90.2,splitLine:{show:false},axisTick:{show:false},axisLabel:{show:false},
   axisLine:{show:true,onZero:false,lineStyle:{color:'#000',width:1.5}}}],
 yAxis:{type:'value',min:-1.35,max:84.4,name:yLabel,nameLocation:'middle',nameGap:54,nameRotate:90,
   nameTextStyle:{fontFamily:'Liberation Sans',fontSize:15,color:'#000'},
   splitLine:{show:false},axisLine:{onZero:false,lineStyle:{color:'#000',width:2}},
   axisTick:{customValues:yTicks,length:8,lineStyle:{color:'#000',width:1}},
   axisLabel:{customValues:yTicks,rotate:90,fontFamily:'Liberation Sans',fontSize:21,color:'#000',margin:12}},
 series:[
  ring('Control',controlNear,'#006400'),ring('Control',controlLow,'#006400'),ring('Control',controlFar,'#006400'),ring('Control',controlTop,'#006400'),
  ring('Treated',treatedEdge,'#ff4500'),ring('Treated',treatedUpper,'#ff4500'),ring('Treated',treatedMiddle,'#ff4500'),ring('Treated',treatedLower,'#ff4500'),ring('Treated',treatedFill,'#ff4500'),
  {type:'line',data:[[cutoffX[0],cutoffY[1]],[cutoffX[1],cutoffY[1]]],symbol:'none',silent:true,animation:false,z:5,lineStyle:{color:'#333',width:3}},
  {type:'line',data:[[cutoffX[1],cutoffY[0]],[cutoffX[1],cutoffY[1]]],symbol:'none',silent:true,animation:false,z:5,lineStyle:{color:'#000',width:3}},
  {type:'scatter',data:[[cutoffX[1],cutoffY[1]]],symbolSize:17,silent:true,animation:false,z:6,itemStyle:{color:'#000',opacity:1}},
  textLabel('Treated',7.4,19.9),textLabel('Control',52.9,60)
 ]});
</script></body></html>
